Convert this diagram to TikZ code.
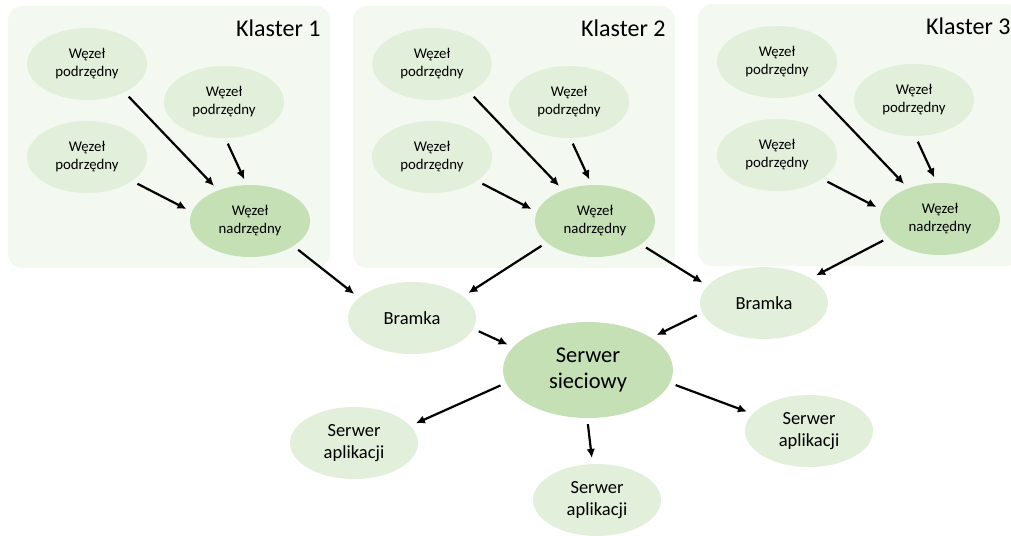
\documentclass[tikz,border=0pt]{standalone}
\usepackage{fontspec}
\setmainfont{Carlito}
\usetikzlibrary{shapes.geometric,arrows.meta}
\definecolor{bgc}{HTML}{F3F8F0}
\definecolor{lite}{HTML}{E2EFDA}
\definecolor{dark}{HTML}{C5E0B4}
\begin{document}
\begin{tikzpicture}[x=1pt,y=-1pt,
 clusterbox/.style={fill=bgc, draw=none, rounded corners=14pt},
 slave/.style={ellipse, fill=lite, minimum width=120pt, minimum height=72pt, inner sep=0pt, align=center, font=\fontsize{14.8}{18}\selectfont},
 master/.style={slave, fill=dark},
 gate/.style={ellipse, fill=lite, minimum width=128pt, minimum height=72pt, inner sep=0pt, align=center, font=\fontsize{18.5}{22}\selectfont},
 web/.style={ellipse, fill=dark, minimum width=170pt, minimum height=96pt, inner sep=0pt, align=center, font=\fontsize{22.5}{26}\selectfont},
 title/.style={anchor=east, font=\fontsize{24}{28}\selectfont},
 arr/.style={line width=2.2pt, -{Latex[length=9pt,width=8.5pt]}, shorten <=6pt, shorten >=6pt}]
\useasboundingbox (0,0) rectangle (1011,535);
\foreach \i/\dx/\dy in {1/0/0, 2/345/0, 3/690/-2} {
  \fill[clusterbox] (8+\dx, 6+\dy) rectangle (330+\dx, 268+\dy);
  \node[title] (t\i) at (324+\dx, 28+\dy) {Klaster \i};
  \node[slave] (a\i) at (87+\dx, 64+\dy) {Węzeł\\podrzędny};
  \node[slave] (b\i) at (224+\dx, 102+\dy) {Węzeł\\podrzędny};
  \node[slave] (c\i) at (87+\dx, 157+\dy) {Węzeł\\podrzędny};
  \node[master] (m\i) at (250+\dx, 221+\dy) {Węzeł\\nadrzędny};
  \draw[arr] (a\i.-37) -- (m\i.136);
  \draw[arr] (b\i.-88) -- (m\i.95);
  \draw[arr] (c\i.-28) -- (m\i.171);
}
\node[gate] (g1) at (412,318) {Bramka};
\node[gate] (g2) at (764,303) {Bramka};
\node[web] (s) at (588,370) {Serwer\\sieciowy};
\node[gate] (p1) at (354,443) {Serwer\\aplikacji};
\node[gate] (p2) at (597,500) {Serwer\\aplikacji};
\node[gate] (p3) at (809,431) {Serwer\\aplikacji};
\draw[arr] (m1.-30) -- (g1.159);
\draw[arr] (m2.-156) -- (g1.23);
\draw[arr] (m2.-27) -- (g2.163);
\draw[arr] (m3.-160) -- (g2.28);
\draw[arr] (g1.-10) -- (s.163);
\draw[arr] (g2.-171) -- (s.27);
\draw[arr] (s.189) -- (p1.17);
\draw[arr] (s.-91) -- (p2.97);
\draw[arr] (s.-9) -- (p3.163);
\end{tikzpicture}
\end{document}
